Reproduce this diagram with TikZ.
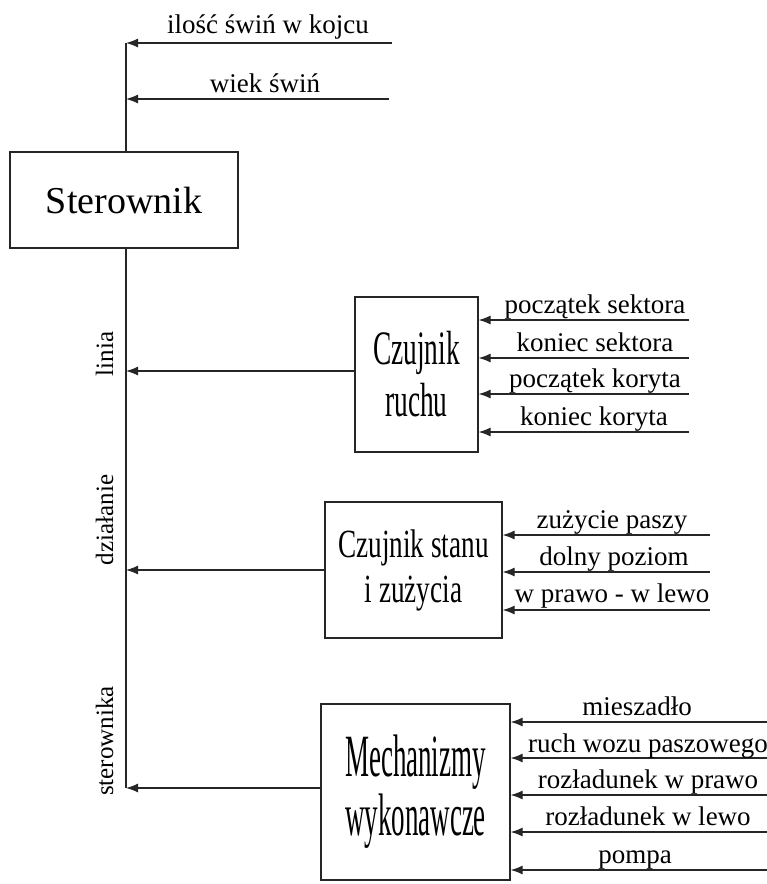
\documentclass[tikz,border=0pt]{standalone}
\usepackage{fontspec}
\setmainfont{Liberation Serif}
\newfontfamily\narrowruch[FakeStretch=0.57]{Liberation Serif}
\newfontfamily\narrowstan[FakeStretch=0.68]{Liberation Serif}
\newfontfamily\narrowmech[FakeStretch=0.45]{Liberation Serif}
\usepackage{tikz}
\usetikzlibrary{arrows.meta, positioning, calc}

\begin{document}
\begin{tikzpicture}[x=1pt, y=-1pt,
    unitbox/.style={rectangle, draw=black!85, line width=1.2pt, align=center, inner sep=0pt},
    sig/.style={anchor=base, font=\fontsize{27}{30}\selectfont},
    side/.style={rotate=90, anchor=base, font=\fontsize{25}{28}\selectfont},
    line/.style={draw=black!85, line width=1.2pt, -{Latex[length=12pt, width=9pt]}},
    bus/.style={draw=black!85, line width=1.2pt}]

    \useasboundingbox (0,0) rectangle (767,884);

    % bloki
    \node [unitbox, minimum width=228pt, minimum height=96pt, font=\fontsize{38}{42}\selectfont] (ster) at (124,200) {Sterownik};
    \node [unitbox, minimum width=123pt, minimum height=155pt, font=\narrowruch\fontsize{48}{52}\selectfont] (ruch) at (416.5,374.5) {Czujnik\\ruchu};
    \node [unitbox, minimum width=177pt, minimum height=136pt, font=\narrowstan\fontsize{40}{45}\selectfont] (stan) at (413.5,570) {Czujnik stanu\\i zużycia};
    \node [unitbox, minimum width=189pt, minimum height=176pt, font=\narrowmech\fontsize{60}{59}\selectfont] (mech) at (415.5,792) {Mechanizmy\\wykonawcze};

    % linia dzialanie sterownika
    \coordinate (bustop) at (126,43);
    \coordinate (busbot) at (126,788);
    \path [bus] (bustop) -- (bustop |- ster.north);
    \path [bus] (busbot |- ster.south) -- (busbot);
    \node [side] (linia) at (113,354) {linia};
    \node [side] (dzial) at (113,520) {działanie};
    \node [side] (sterl) at (113,741) {sterownika};

    % wejscia sterownika
    \coordinate (ilosc) at (392,43);
    \coordinate (wiek) at (389,99);
    \path [line] (ilosc) -- (bustop);
    \path [line] (wiek) -- (wiek -| bustop);
    \node [sig] (iloscl) at (268,33) {ilość świń w kojcu};
    \node [sig] (wiekl) at (265,92) {wiek świń};

    % wyjscia blokow
    \path [line] ([yshift=3.5pt]ruch.west) -- ([yshift=3.5pt]ruch.west -| bustop);
    \path [line] (stan.west) -- (stan.west -| bustop);
    \path [line] ([yshift=4pt]mech.west) -- (busbot);

    % czujnik ruchu
    \coordinate (ps) at (689,320);
    \coordinate (ks) at (689,358);
    \coordinate (pk) at (689,394);
    \coordinate (kk) at (689,432);
    \path [line] (ps) -- (ps -| ruch.east);
    \path [line] (ks) -- (ks -| ruch.east);
    \path [line] (pk) -- (pk -| ruch.east);
    \path [line] (kk) -- (kk -| ruch.east);
    \node [sig] (psl) at (595,313) {początek sektora};
    \node [sig] (ksl) at (595,351) {koniec sektora};
    \node [sig] (pkl) at (595,387) {początek koryta};
    \node [sig] (kkl) at (594,425) {koniec koryta};

    % czujnik stanu
    \coordinate (zp) at (710,535);
    \coordinate (dp) at (710,572);
    \coordinate (pl) at (710,610);
    \path [line] (zp) -- (zp -| stan.east);
    \path [line] (dp) -- (dp -| stan.east);
    \path [line] (pl) -- (pl -| stan.east);
    \node [sig] (zpl) at (612,528) {zużycie paszy};
    \node [sig] (dpl) at (614,565) {dolny poziom};
    \node [sig] (pll) at (612,602) {w prawo - w lewo};

    % mechanizmy wykonawcze
    \coordinate (mi) at (767,722);
    \coordinate (rw) at (767,758);
    \coordinate (rp) at (767,795);
    \coordinate (rl) at (767,832);
    \coordinate (po) at (767,870);
    \path [line] (mi) -- (mi -| mech.east);
    \path [line] (rw) -- (rw -| mech.east);
    \path [line] (rp) -- (rp -| mech.east);
    \path [line] (rl) -- (rl -| mech.east);
    \path [line] (po) -- (po -| mech.east);
    \node [sig] (mil) at (637,715) {mieszadło};
    \node [sig] (rwl) at (648,752) {ruch wozu paszowego};
    \node [sig] (rpl) at (648,788) {rozładunek w prawo};
    \node [sig] (rll) at (648,825) {rozładunek w lewo};
    \node [sig] (pol) at (635,863) {pompa};
\end{tikzpicture}
\end{document}
